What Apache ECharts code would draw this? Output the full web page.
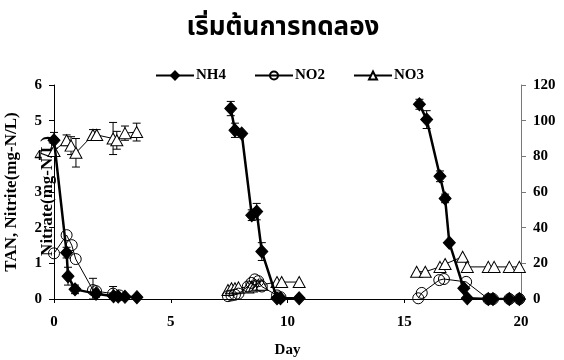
<!DOCTYPE html>
<html>
<head>
<meta charset="utf-8">
<style>
  html, body { margin: 0; padding: 0; background: #fff; }
  #chart { width: 564px; height: 360px; }
</style>
<script src="https://cdn.jsdelivr.net/npm/echarts@6/dist/echarts.min.js"></script>
</head>
<body>
<div id="chart"></div>
<script>
// Three runs of the experiment; null separates one run from the next.
const nh4Day   = [0, 0.54, 0.6, 0.9, 1.8, 2.55, 2.75, 3.04, 3.55, null,
                  7.57, 7.75, 8.04, 8.47, 8.68, 8.9, 9.55, 9.7, 10.5, null,
                  15.65, 15.96, 16.53, 16.75, 16.93, 17.55, 17.7, 18.6, 18.8, 19.5, 19.93];
const nh4Value = [4.45, 1.3, 0.64, 0.27, 0.15, 0.08, 0.07, 0.06, 0.05, null,
                  5.34, 4.73, 4.64, 2.35, 2.45, 1.33, 0.02, 0.02, 0.02, null,
                  5.46, 5.03, 3.44, 2.82, 1.58, 0.3, 0.02, 0, 0, 0, 0];
const nh4Err   = [0.22, 0.15, 0.25, 0.12, 0.1, 0.08, 0, 0, 0, null,
                  0.2, 0.2, 0.05, 0.15, 0.23, 0.25, 0, 0, 0, null,
                  0.14, 0.25, 0.15, 0.12, 0, 0, 0, 0, 0, 0, 0];

const no2Day   = [0, 0.54, 0.76, 0.93, 1.67, 1.8, 2.53, 2.8, null,
                  7.45, 7.6, 7.75, 7.9, 8.3, 8.45, 8.6, 8.75, 8.9, 9.55, 9.7, null,
                  15.6, 15.75, 16.5, 16.7, 17.65, 18.6, 18.8, 19.5, 19.93];
const no2Value = [1.28, 1.79, 1.51, 1.12, 0.25, 0.22, 0.15, 0.1, null,
                  0.08, 0.1, 0.12, 0.15, 0.35, 0.45, 0.55, 0.5, 0.35, 0.1, 0.05, null,
                  0.02, 0.17, 0.53, 0.56, 0.48, 0, 0, 0, 0];
const no2Err   = [0, 0, 0, 0, 0.33, 0, 0.2, 0, null,
                  0, 0, 0, 0, 0, 0, 0, 0, 0, 0, 0, null,
                  0, 0, 0, 0, 0, 0, 0, 0, 0];

const no3Day   = [0, 0.54, 0.73, 0.94, 1.67, 1.83, 2.53, 2.69, 3.04, 3.54, null,
                  7.45, 7.6, 7.75, 7.9, 8.3, 8.45, 8.6, 8.75, 8.9, 9.55, 9.75, 10.5, null,
                  15.53, 15.9, 16.53, 16.75, 17.5, 17.7, 18.6, 18.85, 19.5, 19.93];
const no3Value = [83, 89, 86, 82, 92, 92, 90, 89, 93, 93.6, null,
                  5, 6, 6, 6.5, 6.5, 7, 7.5, 8, 8, 9.5, 9.5, 9.5, null,
                  15.3, 15.3, 18, 19.6, 23.7, 18, 18, 18, 18, 18];
const no3Err   = [0, 3, 5, 8, 3, 3, 9, 5, 4, 5, null,
                  0, 0, 0, 0, 0, 0, 0, 0, 0, 0, 0, 0, null,
                  0, 0, 0, 0, 0, 0, 0, 0, 0, 0];

const dayTicks = [0, 5, 10, 15, 20];

const serif = '"Liberation Serif", "Times New Roman", serif';

function pairs(days, vals) {
  return days.map((d, i) => d === null ? ['-', '-'] : [d, vals[i]]);
}
function errTriples(days, vals, errs) {
  const out = [];
  days.forEach((d, i) => { if (d !== null && errs[i] > 0) out.push([d, vals[i], errs[i]]); });
  return out;
}
function errorBarSeries(days, vals, errs, axisIndex) {
  return {
    type: 'custom',
    yAxisIndex: axisIndex,
    silent: true,
    z: 1,
    data: errTriples(days, vals, errs),
    renderItem: function (params, api) {
      const x = api.value(0), y = api.value(1), e = api.value(2);
      const hi = api.coord([x, y + e]);
      const lo = api.coord([x, Math.max(0, y - e)]);
      const cap = 4;
      const style = { stroke: '#000', lineWidth: 1 };
      return {
        type: 'group',
        children: [
          { type: 'line', shape: { x1: hi[0], y1: hi[1], x2: lo[0], y2: lo[1] }, style: style },
          { type: 'line', shape: { x1: hi[0] - cap, y1: hi[1], x2: hi[0] + cap, y2: hi[1] }, style: style },
          { type: 'line', shape: { x1: lo[0] - cap, y1: lo[1], x2: lo[0] + cap, y2: lo[1] }, style: style }
        ]
      };
    }
  };
}

const axisLabelStyle = { fontFamily: serif, fontWeight: 'bold', fontSize: 15, color: '#000' };

const chart = echarts.init(document.getElementById('chart'), null, { renderer: 'canvas' });
chart.setOption({
  animation: false,
  backgroundColor: '#fff',
  title: {
    text: 'เริ่มต้นการทดลอง',
    left: 278, top: 12, textAlign: 'center',
    textStyle: { fontFamily: '"Noto Sans Thai", "Noto Sans", sans-serif', fontWeight: 'bold', fontSize: 26, color: '#000' }
  },
  legend: {
    data: ['NH4', 'NO2', 'NO3'],
    left: 150, top: 63,
    itemWidth: 38, itemHeight: 10, itemGap: 28,
    textStyle: { fontFamily: serif, fontWeight: 'bold', fontSize: 15, color: '#000', padding: [0, 0, 0, -3] }
  },
  grid: { left: 54, right: 43, top: 85, bottom: 61, containLabel: false, outerBoundsMode: 'none' },
  xAxis: {
    type: 'value', min: 0, max: 20, interval: 5,
    name: 'Day', nameLocation: 'middle', nameGap: 44,
    nameTextStyle: { fontFamily: serif, fontWeight: 'bold', fontSize: 15, color: '#000' },
    axisLine: { lineStyle: { color: '#000', width: 1 } },
    axisTick: { show: true, length: 4, lineStyle: { color: '#000' } },
    axisLabel: Object.assign({ margin: 16, customValues: dayTicks }, axisLabelStyle),
    splitLine: { show: false }
  },
  yAxis: [
    {
      type: 'value', min: 0, max: 6, interval: 1, position: 'left',
      name: 'TAN, Nitrite(mg-N/L)', nameLocation: 'middle', nameGap: 34,
      nameTextStyle: { fontFamily: serif, fontWeight: 'bold', fontSize: 17, color: '#000' },
      axisLine: { show: true, lineStyle: { color: '#000', width: 1 } },
      axisTick: { show: true, length: 5, lineStyle: { color: '#000' } },
      axisLabel: Object.assign({ margin: 12 }, axisLabelStyle),
      splitLine: { show: false }
    },
    {
      type: 'value', min: 0, max: 120, interval: 20, position: 'right',
      axisLine: { show: true, lineStyle: { color: '#777', width: 1 } },
      axisTick: { show: true, length: 5, lineStyle: { color: '#777' } },
      axisLabel: Object.assign({ margin: 12 }, axisLabelStyle),
      splitLine: { show: false }
    }
  ],
  graphic: [
    {
      type: 'text', left: 39, top: 136, z: -1, rotation: Math.PI / 2,
      style: { text: 'Nitrate(mg-N/L)', font: 'bold 17px ' + serif, fill: '#000' }
    }
  ],
  series: [
    errorBarSeries(no3Day, no3Value, no3Err, 1),
    errorBarSeries(no2Day, no2Value, no2Err, 0),
    errorBarSeries(nh4Day, nh4Value, nh4Err, 0),
    {
      name: 'NO3', type: 'line', yAxisIndex: 1, z: 2,
      data: pairs(no3Day, no3Value),
      symbol: 'triangle', symbolSize: [12, 11], connectNulls: false,
      lineStyle: { color: '#000', width: 1 },
      itemStyle: { color: '#fff', borderColor: '#000', borderWidth: 1 }
    },
    {
      name: 'NO2', type: 'line', yAxisIndex: 0, z: 3,
      data: pairs(no2Day, no2Value),
      symbol: 'circle', symbolSize: 11, connectNulls: false,
      lineStyle: { color: '#000', width: 1 },
      itemStyle: { color: 'rgba(255,255,255,0)', borderColor: '#000', borderWidth: 1 }
    },
    {
      name: 'NH4', type: 'line', yAxisIndex: 0, z: 4,
      data: pairs(nh4Day, nh4Value),
      symbol: 'diamond', symbolSize: [12, 13], connectNulls: false,
      lineStyle: { color: '#000', width: 2.5 },
      itemStyle: { color: '#000', borderColor: '#000', borderWidth: 1 }
    }
  ]
});
</script>
</body>
</html>
